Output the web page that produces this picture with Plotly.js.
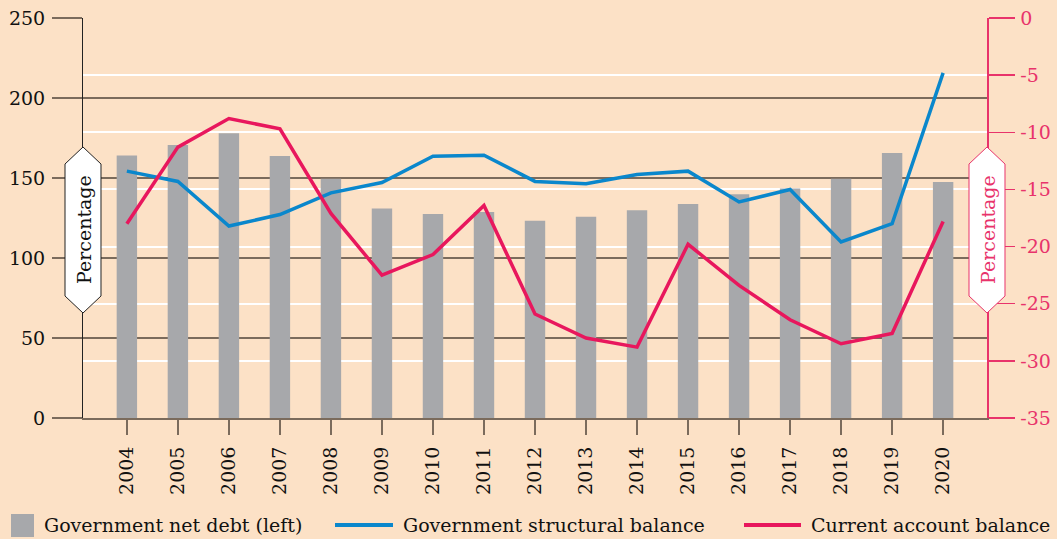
<!DOCTYPE html>
<html>
<head>
<meta charset="utf-8">
<script src="https://cdn.plot.ly/plotly-3.0.1.min.js"></script>
<style>
  html, body { margin: 0; padding: 0; background: #fce1c6; }
  #chart { width: 1057px; height: 539px; }
</style>
</head>
<body>
<div id="chart"></div>
<script>
// ---- Data ----
const years = ['2004','2005','2006','2007','2008','2009','2010','2011','2012','2013','2014','2015','2016','2017','2018','2019','2020'];
const netDebt = [164, 170.6, 178, 163.8, 149.6, 131, 127.5, 128.8, 123.3, 125.8, 129.8, 133.8, 139.8, 143.5, 149.6, 165.6, 147.5];
const structuralBalance = [-13.4, -14.3, -18.2, -17.2, -15.3, -14.4, -12.1, -12.0, -14.3, -14.5, -13.7, -13.4, -16.1, -15.0, -19.6, -18.0, -4.8];
const currentAccount = [-18.0, -11.3, -8.8, -9.7, -17.1, -22.5, -20.7, -16.4, -25.9, -28.0, -28.8, -19.8, -23.4, -26.4, -28.5, -27.6, -17.8];
const leftTicks = [0, 50, 100, 150, 200, 250];
const rightTicks = [0, -5, -10, -15, -20, -25, -30, -35];
const rightTickText = ['0', '-5', '-10', '-15', '-20', '-25', '-30', '-35'];
const seriesNames = ['Government net debt (left)', 'Government structural balance', 'Current account balance'];
const axisTitle = 'Percentage';

// ---- Style ----
const BG = '#fce1c6';
const GRID = '#7b6b5c';
const PINK = '#e8336b';
const BAR = '#a7a8ab';
const BLUE = '#0a87cc';
const RED = '#e8175d';
const FONT = 'DejaVu Serif';

// plot area in pixels
const L = 83, R = 987, T = 18, B = 418;
const W = 1057, H = 539;
const px = x => (x - L) / (R - L);
const py = y => (B - y) / (B - T);

function hexPath(cx, top, bot, half, tip) {
  const pts = [[cx, top], [cx + half, top + tip], [cx + half, bot - tip], [cx, bot], [cx - half, bot - tip], [cx - half, top + tip]];
  return 'M' + pts.map(p => px(p[0]).toFixed(5) + ',' + py(p[1]).toFixed(5)).join(' L') + ' Z';
}

const traces = [
  {
    type: 'bar', x: years, y: netDebt, name: seriesNames[0],
    marker: { color: BAR }, width: 0.4, yaxis: 'y', showlegend: false, hoverinfo: 'x+y'
  },
  {
    type: 'scatter', mode: 'lines', x: years, y: structuralBalance, name: seriesNames[1],
    line: { color: BLUE, width: 3.5 }, yaxis: 'y2', showlegend: false
  },
  {
    type: 'scatter', mode: 'lines', x: years, y: currentAccount, name: seriesNames[2],
    line: { color: RED, width: 3.5 }, yaxis: 'y2', showlegend: false
  }
];

const shapes = [
  { type: 'path', xref: 'paper', yref: 'paper', layer: 'above', path: hexPath(83, 147, 313, 18, 17), fillcolor: '#ffffff', line: { color: '#222222', width: 1 } },
  { type: 'path', xref: 'paper', yref: 'paper', layer: 'above', path: hexPath(987, 147, 313, 18, 17), fillcolor: '#ffffff', line: { color: PINK, width: 1 } },
  // legend symbols
  { type: 'rect', xref: 'paper', yref: 'paper', x0: px(11), x1: px(34), y0: py(514), y1: py(537), fillcolor: BAR, line: { width: 0 } },
  { type: 'line', xref: 'paper', yref: 'paper', x0: px(335), x1: px(393), y0: py(525), y1: py(525), line: { color: BLUE, width: 4 } },
  { type: 'line', xref: 'paper', yref: 'paper', x0: px(744), x1: px(801), y0: py(525), y1: py(525), line: { color: RED, width: 4 } }
];

const annotations = [
  { xref: 'paper', yref: 'paper', x: px(84), y: py(230), text: axisTitle, textangle: -90, showarrow: false, font: { family: FONT, size: 19, color: '#111111' }, xanchor: 'center', yanchor: 'middle' },
  { xref: 'paper', yref: 'paper', x: px(988), y: py(230), text: axisTitle, textangle: -90, showarrow: false, font: { family: FONT, size: 19, color: PINK }, xanchor: 'center', yanchor: 'middle' },
  { xref: 'paper', yref: 'paper', x: px(42), y: py(525), text: seriesNames[0], showarrow: false, font: { family: FONT, size: 19, color: '#111111' }, xanchor: 'left', yanchor: 'middle' },
  { xref: 'paper', yref: 'paper', x: px(401), y: py(525), text: seriesNames[1], showarrow: false, font: { family: FONT, size: 19, color: '#111111' }, xanchor: 'left', yanchor: 'middle' },
  { xref: 'paper', yref: 'paper', x: px(809), y: py(525), text: seriesNames[2], showarrow: false, font: { family: FONT, size: 19, color: '#111111' }, xanchor: 'left', yanchor: 'middle' }
];

const layout = {
  width: W, height: H,
  margin: { l: L, r: W - R, t: T, b: H - B, pad: 0 },
  paper_bgcolor: BG, plot_bgcolor: BG,
  font: { family: FONT, size: 19, color: '#111111' },
  showlegend: false,
  bargap: 0.6,
  xaxis: {
    type: 'category', range: [-0.86, 16.86],
    showgrid: false, zeroline: false,
    showline: true, linecolor: GRID, linewidth: 2,
    ticks: 'outside', ticklen: 15, tickwidth: 1.5, tickcolor: GRID,
    tickangle: -90, ticklabelstandoff: 4,
    tickfont: { family: FONT, size: 19, color: '#111111' },
    fixedrange: true
  },
  yaxis: {
    range: [0, 250], tickvals: leftTicks,
    showgrid: true, gridcolor: GRID, gridwidth: 2,
    zeroline: false,
    showline: true, linecolor: '#222222', linewidth: 1,
    ticks: 'outside', ticklen: 30, tickwidth: 2, tickcolor: GRID,
    ticklabelstandoff: 3,
    tickfont: { family: FONT, size: 19, color: '#111111' },
    fixedrange: true
  },
  yaxis2: {
    overlaying: 'y', side: 'right', anchor: 'x',
    range: [-35, 0], tickvals: rightTicks, ticktext: rightTickText,
    showgrid: true, gridcolor: '#ffffff', gridwidth: 2,
    zeroline: false,
    showline: true, linecolor: PINK, linewidth: 1.5,
    ticks: 'outside', ticklen: 26, tickwidth: 1.5, tickcolor: PINK,
    ticklabelstandoff: 2,
    tickfont: { family: FONT, size: 19, color: PINK },
    fixedrange: true
  },
  shapes: shapes,
  annotations: annotations
};

Plotly.newPlot('chart', traces, layout, { displayModeBar: false, staticPlot: true });
</script>
</body>
</html>
